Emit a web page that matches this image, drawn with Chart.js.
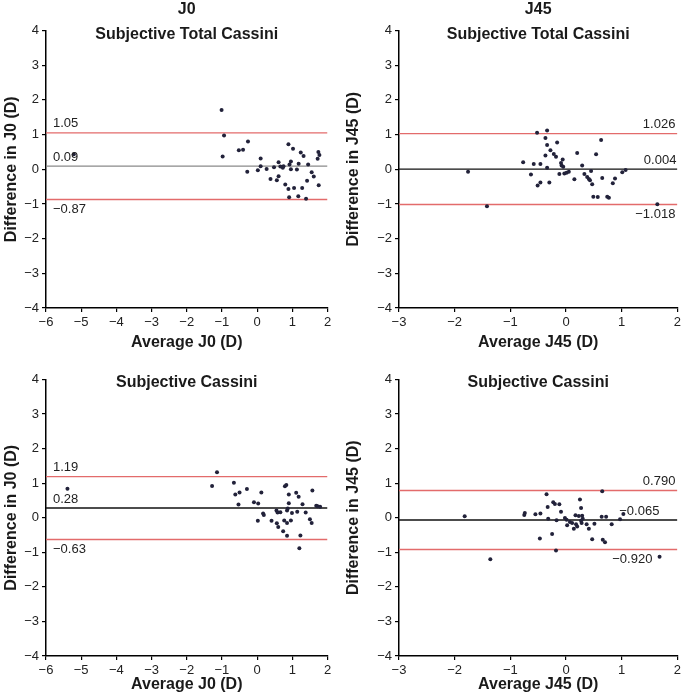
<!DOCTYPE html>
<html>
<head>
<meta charset="utf-8">
<script src="https://cdn.jsdelivr.net/npm/chart.js@4.4.1/dist/chart.umd.min.js"></script>
<style>
  body { margin: 0; background: #fff; }
  .wrap { position: relative; width: 684px; height: 699px; overflow: hidden; }
  canvas { position: absolute; }
</style>
</head>
<body>
<div class="wrap">
  <canvas id="p1" width="342" height="355" style="left:0;top:0"></canvas>
  <canvas id="p2" width="342" height="355" style="left:342px;top:0"></canvas>
  <canvas id="p3" width="342" height="350" style="left:0;top:349px"></canvas>
  <canvas id="p4" width="342" height="350" style="left:342px;top:349px"></canvas>
</div>
<script>
// column / row headings
const colTitles = ['J0', 'J45'];
const rowTitles = ['Subjective Total Cassini', 'Subjective Cassini'];

// axis ranges
const j0Range = [-6, 2];
const j45Range = [-3, 2];
const diffRange = [-4, 4];

// J0, subjective vs total Cassini
const j0TotalAvg = [-5.21, -1.01, -0.94, -0.98, -0.52, -0.40, -0.26, -0.28, 0.10, 0.02, 0.10, 0.27, 0.38, 0.48, 0.56,
  0.61, 0.61, 0.66, 0.73, 0.75, 0.80, 0.89, 0.89, 0.92, 0.96, 0.96, 1.02, 1.05, 1.13, 1.18, 0.91, 1.17, 1.24, 1.28,
  1.32, 1.39, 1.45, 1.42, 1.55, 1.61, 1.74, 1.77, 1.72, 1.75];
const j0TotalDiff = [0.43, 1.71, 0.97, 0.37, 0.55, 0.56, 0.80, -0.07, 0.31, -0.03, 0.09, 0.01, -0.28, 0.06, -0.32,
  -0.20, 0.20, 0.08, 0.04, 0.09, -0.44, 0.72, -0.57, 0.14, 0.22, 0.00, 0.59, -0.54, -0.01, 0.16, -0.81, -0.78, 0.48, -0.54,
  0.38, -0.85, 0.14, -0.33, -0.09, -0.21, 0.50, 0.41, 0.30, -0.46];
const j0TotalLimits = [1.05, 0.09, -0.87];

// J45, subjective vs total Cassini
const j45TotalAvg = [-1.76, -1.42, -0.77, -0.63, -0.58, -0.52, -0.51, -0.46, -0.46, -0.37, -0.34, -0.34, -0.37, -0.34,
  -0.30, -0.28, -0.22, -0.18, -0.16, -0.12, -0.09, -0.08, -0.06, -0.05, -0.03, 0.01, 0.05, 0.15, 0.20, 0.29, 0.33, 0.38,
  0.41, 0.43, 0.45, 0.47, 0.49, 0.54, 0.57, 0.63, 0.65, 0.74, 0.77, 0.84, 0.88, 1.01, 1.07, 1.64];
const j45TotalDiff = [-0.07, -1.07, 0.20, -0.15, 0.15, 1.05, -0.47, 0.15, -0.38, 0.90, 1.12, 0.70, 0.40, 0.04,
  -0.38, 0.55, 0.44, 0.36, 0.77, -0.14, 0.18, 0.11, 0.28, 0.07, -0.12, -0.10, -0.07, -0.29, 0.47, 0.11, -0.14, -0.22,
  -0.28, -0.32, -0.05, -0.43, -0.79, 0.43, -0.80, 0.84, -0.25, -0.79, -0.82, -0.40, -0.27, -0.09, -0.02, -1.01];
const j45TotalLimits = [1.026, 0.004, -1.018];

// J0, subjective vs Cassini
const j0CassAvg = [-5.39, -1.14, -1.28, -0.66, -0.62, -0.50, -0.53, -0.29, -0.09, 0.03, 0.12, 0.02, 0.17, 0.19, 0.41,
  0.56, 0.55, 0.58, 0.66, 0.60, 0.74, 0.77, 0.79, 0.83, 0.85, 0.85, 0.85, 0.87, 0.90, 0.90, 0.96, 0.99, 1.11, 1.14,
  1.18, 1.23, 1.20, 1.29, 1.38, 1.50, 1.55, 1.57, 1.68, 1.72, 1.79];
const j0CassDiff = [0.84, 1.32, 0.92, 1.01, 0.67, 0.73, 0.38, 0.83, 0.45, 0.41, 0.73, -0.09, 0.12, 0.08, -0.09,
  -0.16, 0.21, 0.15, 0.16, -0.27, -0.39, -0.08, 0.91, 0.95, 0.21, -0.15, -0.52, 0.27, 0.67, 0.42, -0.08, 0.14, 0.72, 0.17,
  0.61, -0.51, -0.88, 0.39, 0.15, -0.04, -0.15, 0.79, 0.35, 0.33, 0.32];
const j0CassLimits = [1.19, 0.28, -0.63];

// J45, subjective vs Cassini
const j45CassAvg = [-1.82, -1.36, -0.74, -0.75, -0.55, -0.46, -0.47, -0.35, -0.33, -0.32, -0.25, -0.23, -0.20, -0.18,
  -0.17, -0.12, -0.09, -0.02, 0.01, 0.02, 0.07, 0.11, 0.14, 0.17, 0.18, 0.20, 0.23, 0.25, 0.27, 0.27, 0.29, 0.28, 0.30,
  0.37, 0.41, 0.47, 0.51, 0.64, 0.65, 0.66, 0.70, 0.72, 0.82, 0.97, 1.03, 1.68];
const j45CassDiff = [0.04, -1.20, 0.14, 0.08, 0.10, 0.12, -0.60, 0.68, 0.31, -0.03, -0.47, 0.45, 0.40, -0.95,
  -0.07, 0.39, 0.17, -0.01, -0.06, -0.22, -0.12, -0.15, -0.32, 0.07, -0.19, -0.25, 0.05, 0.53, 0.28, -0.09, 0.06, -0.15,
  -0.03, -0.19, -0.32, -0.62, -0.17, 0.03, 0.77, -0.64, -0.71, 0.03, -0.19, -0.04, 0.11, -1.13];
const j45CassLimits = [0.790, -0.065, -0.920];

const FONT = '"Liberation Sans", Arial, Helvetica, sans-serif';
const RED = '#e36b6b';
const minus = s => String(s).replace('-', '\u2212');

const headers = {
  id: 'headers',
  afterDraw(chart, args, opts) {
    const { ctx, chartArea } = chart;
    const cx = (chartArea.left + chartArea.right) / 2;
    ctx.save();
    ctx.fillStyle = '#1a1a1a';
    ctx.textAlign = 'center';
    ctx.textBaseline = 'alphabetic';
    (opts.lines || []).forEach(l => {
      ctx.font = 'bold ' + l.size + 'px ' + FONT;
      ctx.fillText(l.text, cx, l.y);
    });
    ctx.restore();
  }
};

const refLabels = {
  id: 'refLabels',
  afterDatasetsDraw(chart, args, opts) {
    const { ctx, chartArea, scales } = chart;
    ctx.save();
    ctx.font = '13px ' + FONT;
    ctx.fillStyle = '#222';
    ctx.textBaseline = 'middle';
    (opts.items || []).forEach(it => {
      const py = scales.y.getPixelForValue(it.value) + it.dy;
      if (opts.side === 'left') {
        ctx.textAlign = 'left';
        ctx.fillText(it.text, chartArea.left + 7, py);
      } else {
        ctx.textAlign = 'right';
        ctx.fillText(it.text, chartArea.right - (it.inset || 0), py);
      }
    });
    ctx.restore();
  }
};

Chart.register(headers, refLabels);

function makePanel(id, p) {
  const points = p.avg.map((x, i) => ({ x: x, y: p.diff[i] }));
  const lineSet = (v, color) => ({
    data: [{ x: p.xRange[0], y: v }, { x: p.xRange[1], y: v }],
    showLine: true, borderColor: color, borderWidth: 1.4, pointRadius: 0, order: 2
  });
  const dec = p.decimals;
  const items = p.limits.map((v, i) => ({
    value: v,
    text: minus(v.toFixed(dec)),
    dy: i === 2 ? 10 : -9,
    inset: (p.insets || [])[i]
  }));

  new Chart(document.getElementById(id), {
    type: 'scatter',
    data: {
      datasets: [
        { data: points, backgroundColor: '#22223a', borderColor: '#22223a', pointRadius: 2, borderWidth: 0, order: 0 },
        lineSet(p.limits[0], RED),
        lineSet(p.limits[1], p.meanColor),
        lineSet(p.limits[2], RED)
      ]
    },
    options: {
      responsive: false,
      animation: false,
      devicePixelRatio: 1,
      layout: { padding: { top: p.top, right: p.right, bottom: 0, left: 0 } },
      plugins: {
        legend: { display: false },
        tooltip: { enabled: false },
        headers: { lines: p.headers },
        refLabels: { side: p.side, items: items }
      },
      scales: {
        x: {
          type: 'linear', min: p.xRange[0], max: p.xRange[1],
          afterFit: s => { s.height = p.xHeight; },
          border: { display: true, color: '#000', width: 1.5 },
          grid: { display: true, drawOnChartArea: false, drawTicks: true, tickLength: 4, color: '#000', lineWidth: 1.2 },
          ticks: { stepSize: 1, color: '#222', font: { family: FONT, size: 13 }, padding: 3, maxRotation: 0,
            callback: v => minus(v) },
          title: { display: true, text: p.xTitle, color: '#1a1a1a', font: { family: FONT, size: 16, weight: 'bold' },
            padding: { top: 0, bottom: p.xTitlePad } }
        },
        y: {
          type: 'linear', min: diffRange[0], max: diffRange[1],
          afterFit: s => { s.width = p.left; },
          border: { display: true, color: '#000', width: 1.5 },
          grid: { display: true, drawOnChartArea: false, drawTicks: true, tickLength: 4, color: '#000', lineWidth: 1.2 },
          ticks: { stepSize: 1, color: '#222', font: { family: FONT, size: 13 }, padding: 3,
            callback: v => minus(v) },
          title: { display: true, text: p.yTitle, color: '#1a1a1a', font: { family: FONT, size: 16, weight: 'bold' },
            padding: { top: 2, bottom: 0 } }
        }
      }
    }
  });
}

makePanel('p1', {
  avg: j0TotalAvg, diff: j0TotalDiff, limits: j0TotalLimits, decimals: 2, xRange: j0Range,
  meanColor: '#8a8a8a', side: 'left', left: 46, right: 14.5, top: 30.5, xHeight: 47, xTitlePad: 3,
  headers: [{ text: colTitles[0], y: 14, size: 16 }, { text: rowTitles[0], y: 39, size: 16 }],
  xTitle: 'Average J0 (D)', yTitle: 'Difference in J0 (D)'
});
makePanel('p2', {
  avg: j45TotalAvg, diff: j45TotalDiff, limits: j45TotalLimits, decimals: 3, xRange: j45Range,
  meanColor: '#111', side: 'right', left: 57, right: 3.7, top: 30.5, xHeight: 47, xTitlePad: 3,
  insets: [2, 1, 2],
  headers: [{ text: colTitles[1], y: 14, size: 16 }, { text: rowTitles[0], y: 39, size: 16 }],
  xTitle: 'Average J45 (D)', yTitle: 'Difference in J45 (D)'
});
makePanel('p3', {
  avg: j0CassAvg, diff: j0CassDiff, limits: j0CassLimits, decimals: 2, xRange: j0Range,
  meanColor: '#111', side: 'left', left: 46, right: 14.5, top: 30.5, xHeight: 43, xTitlePad: 4.5,
  headers: [{ text: rowTitles[1], y: 38, size: 16 }],
  xTitle: 'Average J0 (D)', yTitle: 'Difference in J0 (D)'
});
makePanel('p4', {
  avg: j45CassAvg, diff: j45CassDiff, limits: j45CassLimits, decimals: 3, xRange: j45Range,
  meanColor: '#111', side: 'right', left: 57, right: 3.7, top: 30.5, xHeight: 43, xTitlePad: 4.5,
  insets: [2, 18, 25],
  headers: [{ text: rowTitles[1], y: 38, size: 16 }],
  xTitle: 'Average J45 (D)', yTitle: 'Difference in J45 (D)'
});
</script>
</body>
</html>
